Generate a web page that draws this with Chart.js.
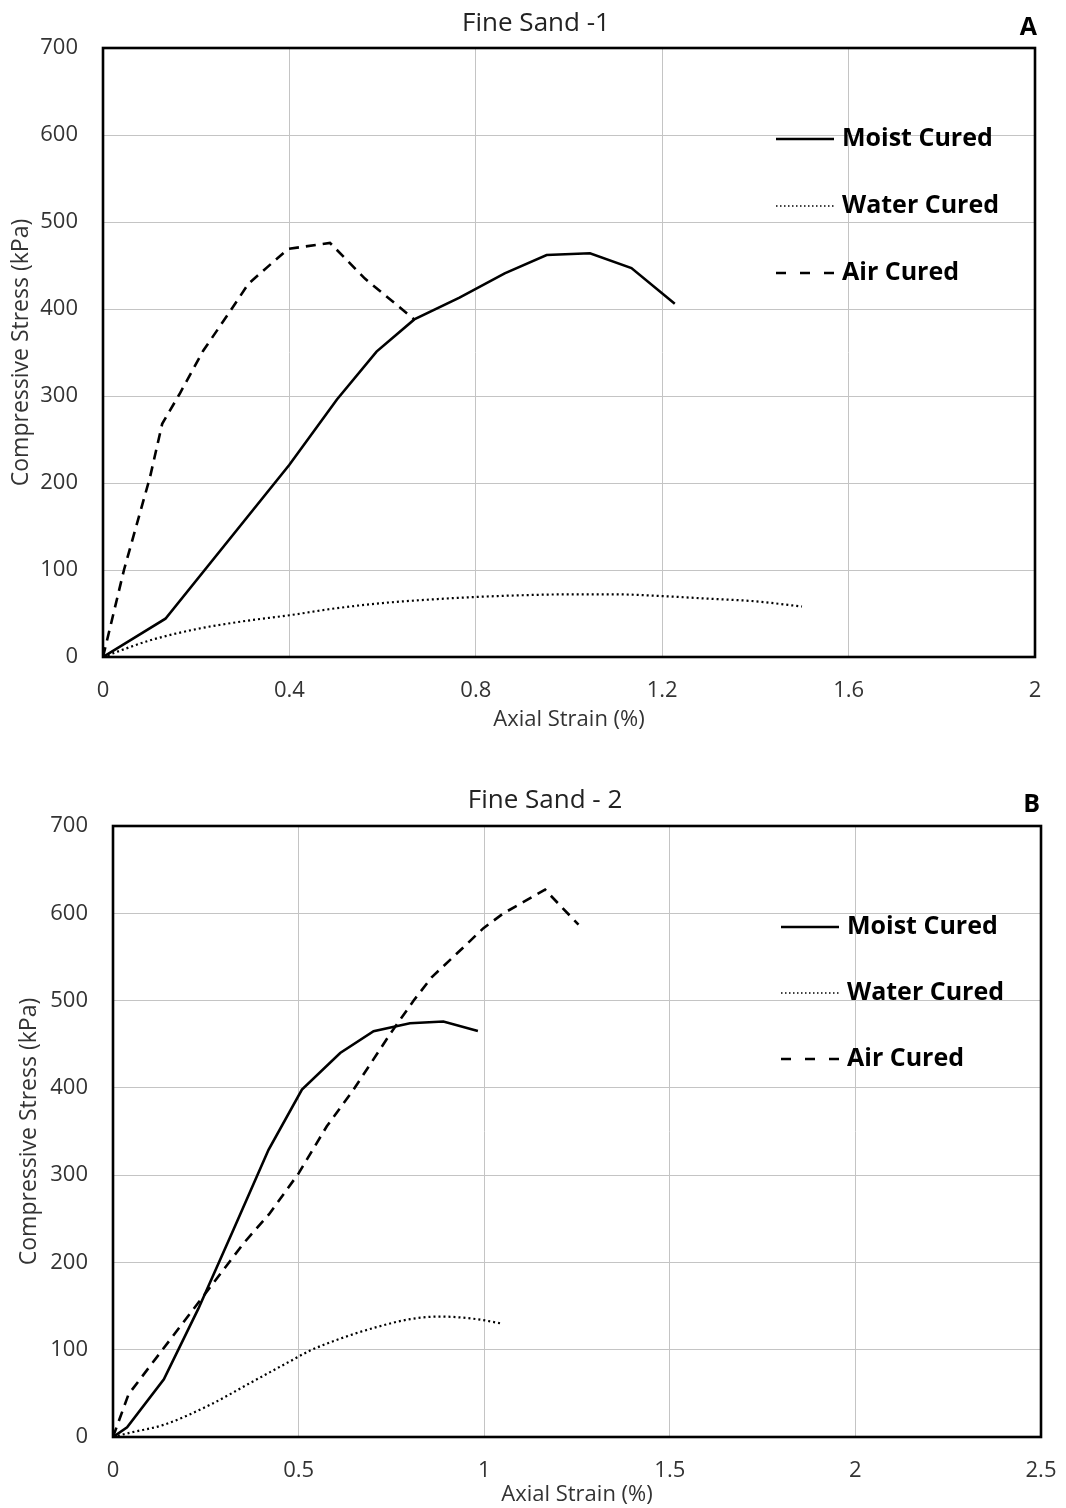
<!DOCTYPE html>
<html>
<head>
<meta charset="utf-8">
<title>Fine Sand - Compressive Stress vs Axial Strain</title>
<script src="https://cdn.jsdelivr.net/npm/chart.js@4.4.1/dist/chart.umd.min.js"></script>
<style>
  html, body { margin: 0; padding: 0; background: #fff; }
  canvas { position: absolute; left: 0; }
  #chartA { top: 0; }
  #chartB { top: 760px; }
</style>
</head>
<body>
<canvas id="chartA" width="1066" height="740"></canvas>
<canvas id="chartB" width="1066" height="748"></canvas>
<script>
// Fine Sand -1 (panel A)
const moistStrainA = [0, 0.134, 0.4, 0.502, 0.587, 0.668, 0.765, 0.862, 0.952, 1.045, 1.134, 1.227];
const moistStressA = [0, 44, 221, 296, 351, 388, 413, 441, 462, 464, 447, 406];
const waterStrainA = [0, 0.1, 0.2, 0.3, 0.4, 0.5, 0.6, 0.7, 0.8, 0.9, 1.0, 1.1, 1.2, 1.3, 1.4, 1.5];
const waterStressA = [0, 19, 32, 41, 48, 56, 62, 66, 69, 71, 72, 72, 70, 67, 64, 58];
const airStrainA = [0, 0.045, 0.101, 0.127, 0.164, 0.215, 0.271, 0.312, 0.397, 0.487, 0.562, 0.668];
const airStressA = [0, 100, 207, 268, 302, 352, 396, 429, 469, 476, 435, 388];

// Fine Sand - 2 (panel B)
const moistStrainB = [0, 0.038, 0.137, 0.23, 0.325, 0.419, 0.509, 0.612, 0.702, 0.80, 0.89, 0.983];
const moistStressB = [0, 11, 66, 147, 238, 329, 398, 440, 465, 474, 476, 465];
const waterStrainB = [0, 0.047, 0.137, 0.262, 0.37, 0.478, 0.531, 0.621, 0.711, 0.80, 0.881, 0.98, 1.047];
const waterStressB = [0, 5, 14, 37, 62, 87, 99, 114, 126, 135, 138, 135, 130];
const airStrainB = [0, 0.042, 0.352, 0.42, 0.5, 0.576, 0.648, 0.747, 0.81, 0.859, 0.944, 0.998, 1.052, 1.106, 1.164, 1.254];
const airStressB = [0, 49, 222, 255, 302, 356, 398, 462, 500, 527, 561, 583, 600, 613, 627, 587];

const seriesNames = ['Moist Cured', 'Water Cured', 'Air Cured'];
const xTicksA = { max: 2, step: 0.4 };
const xTicksB = { max: 2.5, step: 0.5 };
const yTicks = { max: 700, step: 100 };

const FONT = "'Open Sans', sans-serif";
Chart.defaults.font.family = FONT;
Chart.defaults.color = '#333';

// line styles for plot and legend samples
const lineStyles = [
  { dash: [], width: 2.6, legendDash: [], legendWidth: 2.6 },
  { dash: [2, 3], width: 2.2, legendDash: [1.5, 2.5], legendWidth: 1.6 },
  { dash: [10, 7], width: 2.6, legendDash: [10, 14], legendWidth: 2.6 }
];

function toPoints(xs, ys) {
  return xs.map((x, i) => ({ x: x, y: ys[i] }));
}

// 0.4 -> "0.4", 2 -> "2"
function tickText(value) {
  return String(parseFloat(value.toFixed(2)));
}

// frame, title, panel letter and in-plot legend
const panelDecor = {
  id: 'panelDecor',
  afterDatasetsDraw(chart, args, opts) {
    const { ctx, chartArea: a } = chart;
    ctx.save();
    ctx.setLineDash([]);
    ctx.strokeStyle = '#000';
    ctx.lineWidth = 2.6;
    ctx.strokeRect(a.left, a.top, a.right - a.left, a.bottom - a.top);

    ctx.textBaseline = 'middle';
    ctx.fillStyle = '#222';
    ctx.textAlign = 'center';
    ctx.font = "26px " + FONT;
    ctx.fillText(opts.title, opts.titleX, opts.titleY);

    ctx.fillStyle = '#000';
    ctx.textAlign = 'right';
    ctx.font = "bold 25px " + FONT;
    ctx.fillText(opts.letter, opts.letterX, opts.letterY);

    ctx.textAlign = 'left';
    seriesNames.forEach((name, i) => {
      const y = opts.legendY + i * opts.legendGap;
      const st = lineStyles[i];
      ctx.beginPath();
      ctx.strokeStyle = '#000';
      ctx.lineWidth = st.legendWidth;
      ctx.setLineDash(st.legendDash);
      ctx.moveTo(opts.legendX, y);
      ctx.lineTo(opts.legendX + 58, y);
      ctx.stroke();
      ctx.setLineDash([]);
      ctx.fillText(name, opts.legendX + 66, y);
    });
    ctx.restore();
  }
};

function buildChart(id, series, xTicks, layout, decor) {
  const datasets = series.map((s, i) => ({
    label: seriesNames[i],
    data: toPoints(s[0], s[1]),
    showLine: true,
    borderColor: '#000',
    borderWidth: lineStyles[i].width,
    borderDash: lineStyles[i].dash,
    borderCapStyle: 'butt',
    pointRadius: 0,
    tension: 0,
    cubicInterpolationMode: i === 1 ? 'monotone' : 'default'
  }));

  return new Chart(document.getElementById(id), {
    type: 'scatter',
    data: { datasets: datasets },
    options: {
      responsive: false,
      animation: false,
      layout: { padding: { left: 0, top: layout.top, right: layout.right, bottom: 0 } },
      plugins: {
        legend: { display: false },
        tooltip: { enabled: false },
        panelDecor: decor
      },
      scales: {
        x: {
          type: 'linear',
          min: 0,
          max: xTicks.max,
          afterFit: (scale) => {
            scale.height = layout.xHeight;
            scale.paddingLeft = 0;
            scale.paddingRight = 0;
          },
          grid: { color: '#c4c4c4', lineWidth: 1, drawTicks: false },
          border: { display: false },
          ticks: { stepSize: xTicks.step, padding: 21, font: { size: 22 }, color: '#333', callback: tickText },
          title: {
            display: true,
            text: 'Axial Strain (%)',
            font: { size: 22 },
            color: '#333',
            padding: { top: 0, bottom: layout.xTitlePad }
          }
        },
        y: {
          type: 'linear',
          min: 0,
          max: yTicks.max,
          afterFit: (scale) => {
            scale.width = layout.yWidth;
            scale.paddingTop = 0;
            scale.paddingBottom = 0;
          },
          grid: { color: '#c4c4c4', lineWidth: 1, drawTicks: false },
          border: { display: false },
          ticks: { stepSize: yTicks.step, padding: 25, font: { size: 22 }, color: '#333' },
          title: {
            display: true,
            text: 'Compressive Stress (kPa)',
            font: { size: 23 },
            color: '#333',
            padding: { top: layout.yTitlePad, bottom: 0 }
          }
        }
      }
    },
    plugins: [panelDecor]
  });
}

buildChart('chartA',
  [[moistStrainA, moistStressA], [waterStrainA, waterStressA], [airStrainA, airStressA]],
  xTicksA,
  { top: 48, right: 31, yWidth: 103, xHeight: 83, xTitlePad: 7, yTitlePad: 8 },
  { title: 'Fine Sand -1', titleX: 536, titleY: 24, letter: 'A', letterX: 1037, letterY: 28,
    legendX: 776, legendY: 139, legendGap: 67 });

buildChart('chartB',
  [[moistStrainB, moistStressB], [waterStrainB, waterStressB], [airStrainB, airStressB]],
  xTicksB,
  { top: 66, right: 25, yWidth: 113, xHeight: 71, xTitlePad: 0, yTitlePad: 16 },
  { title: 'Fine Sand - 2', titleX: 545, titleY: 41, letter: 'B', letterX: 1040, letterY: 45,
    legendX: 781, legendY: 167, legendGap: 66 });
</script>
</body>
</html>
